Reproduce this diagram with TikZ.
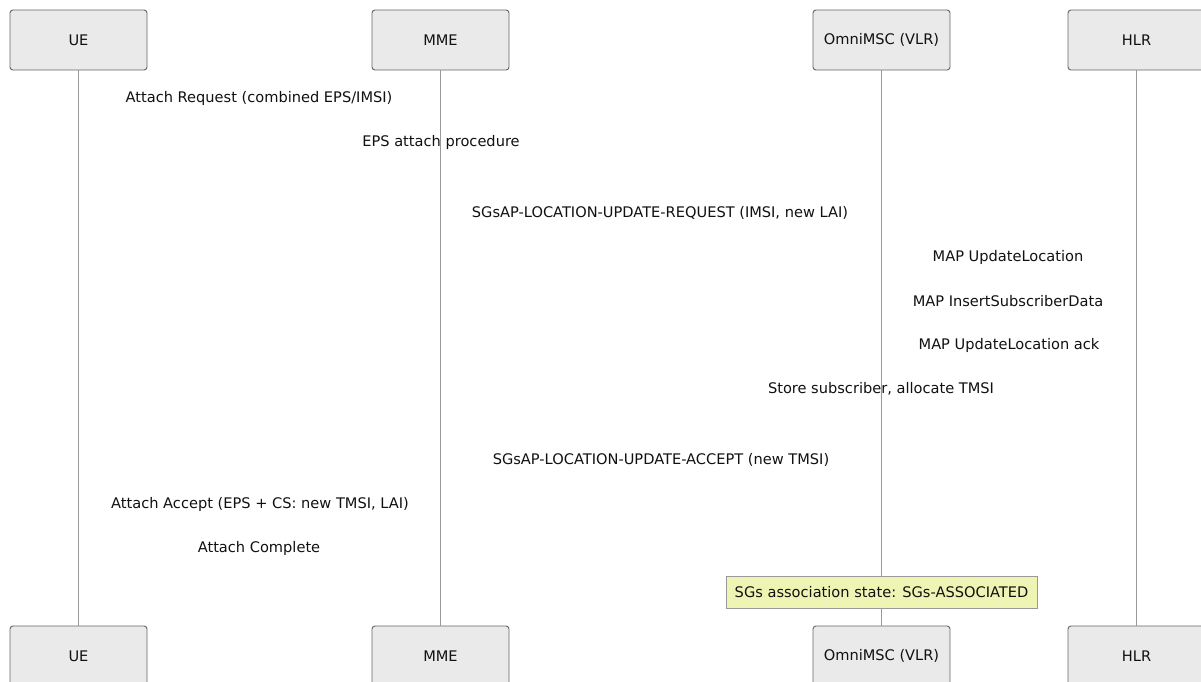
\documentclass[tikz,border=0pt]{standalone}
\usepackage{fontspec}
\setmainfont{DejaVu Sans}
\definecolor{actfill}{HTML}{EAEAEA}
\definecolor{actdraw}{HTML}{666666}
\definecolor{lifeline}{HTML}{999999}
\definecolor{notefill}{HTML}{EEF5B4}
\definecolor{notedraw}{HTML}{999999}
\definecolor{txt}{HTML}{111111}
\begin{document}
\begin{tikzpicture}[x=1pt,y=-1pt,
  font=\fontsize{14.6}{17}\selectfont,
  actor/.style={draw=actdraw,fill=actfill,rounded corners=3pt,minimum width=137pt,minimum height=60pt,inner sep=0pt,text=txt,line width=0.9pt},
  life/.style={draw=lifeline,line width=0.9pt},
  msg/.style={inner sep=0pt,text=txt},
  notebox/.style={draw=notedraw,fill=notefill,minimum width=311pt,minimum height=32pt,inner sep=0pt,text=txt,line width=0.8pt}]
\useasboundingbox (0,0) rectangle (1201,681);
\fill[white] (0,0) rectangle (1201,681);
% actors top
\node[actor] (ue1) at (78.5,40) {UE};
\node[actor] (mme1) at (440.5,40) {MME};
\node[actor] (msc1) at (881.5,40) {OmniMSC (VLR)};
\node[actor] (hlr1) at (1136.5,40) {HLR};
% actors bottom
\node[actor] (ue2) at (78.5,656) {UE};
\node[actor] (mme2) at (440.5,656) {MME};
\node[actor] (msc2) at (881.5,656) {OmniMSC (VLR)};
\node[actor] (hlr2) at (1136.5,656) {HLR};
% lifelines
\draw[life] (ue1.south) -- (ue2.north);
\draw[life] (mme1.south) -- (mme2.north);
\draw[life] (msc1.south) -- (msc2.north);
\draw[life] (hlr1.south) -- (hlr2.north);
% messages
\node[msg] (m1) at (259,98) {Attach Request (combined EPS/IMSI)};
\node[msg] (m2) at (441,142) {EPS attach procedure};
\node[msg] (m3) at (660,213) {SGsAP-LOCATION-UPDATE-REQUEST (IMSI, new LAI)};
\node[msg] (m4) at (1008,257) {MAP UpdateLocation};
\node[msg] (m5) at (1008,301) {MAP InsertSubscriberData};
\node[msg] (m6) at (1009,345) {MAP UpdateLocation ack};
\node[msg] (m7) at (881,389) {Store subscriber, allocate TMSI};
\node[msg] (m8) at (661,460) {SGsAP-LOCATION-UPDATE-ACCEPT (new TMSI)};
\node[msg] (m9) at (260,504) {Attach Accept (EPS + CS: new TMSI, LAI)};
\node[msg] (m10) at (259,548) {Attach Complete};
% note
\node[notebox] (note) at (881.5,592.5) {SGs association state: SGs-ASSOCIATED};
\end{tikzpicture}
\end{document}
